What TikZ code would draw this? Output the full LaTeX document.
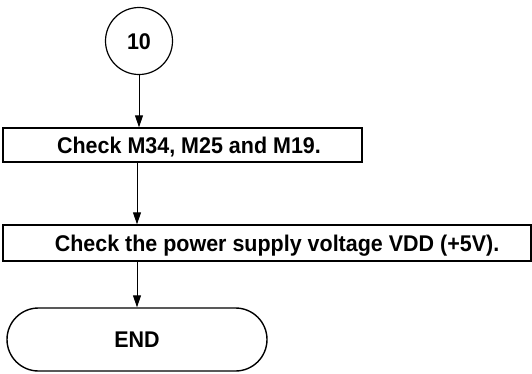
\documentclass[tikz,border=0pt]{standalone}
\usepackage{fontspec}
\setmainfont{Liberation Sans}
\newfontfamily\heavyfont[UprightFont={* Bold}, FakeStretch=0.946]{Liberation Sans}
\usetikzlibrary{arrows.meta,shapes.misc}
\begin{document}
\begin{tikzpicture}[x=1pt,y=-1pt,
  every node/.style={font=\heavyfont\fontsize{22.7}{26}\selectfont, inner sep=0pt, text height=16.3pt, text depth=0pt},
  stepbox/.style={draw, line width=1.4pt, minimum height=34pt},
  conn/.style={line width=1pt, -{Triangle[length=12pt,width=8pt]}}]
\useasboundingbox (0,0) rectangle (532,373);
\node[draw, circle, line width=1.2pt, minimum size=67pt] (c10) at (139,41) {10};
\node[stepbox, minimum width=359pt] (b1) at (182.5,145) {\hspace*{13pt}Check M34, M25 and M19.};
\node[stepbox, minimum width=528pt, minimum height=36pt] (b2) at (267,243) {\hspace*{20pt}Check the power supply voltage VDD (+5V).};
\node[draw, rounded rectangle, line width=1.4pt, minimum width=260pt, minimum height=63pt] (end) at (137,339.5) {END};
\draw[conn] (c10.south) -- (c10.south |- b1.north);
\draw[conn] (b1.south -| end.north) -- (b2.north -| end.north);
\draw[conn] (b2.south -| end.north) -- (end.north);
\end{tikzpicture}
\end{document}
